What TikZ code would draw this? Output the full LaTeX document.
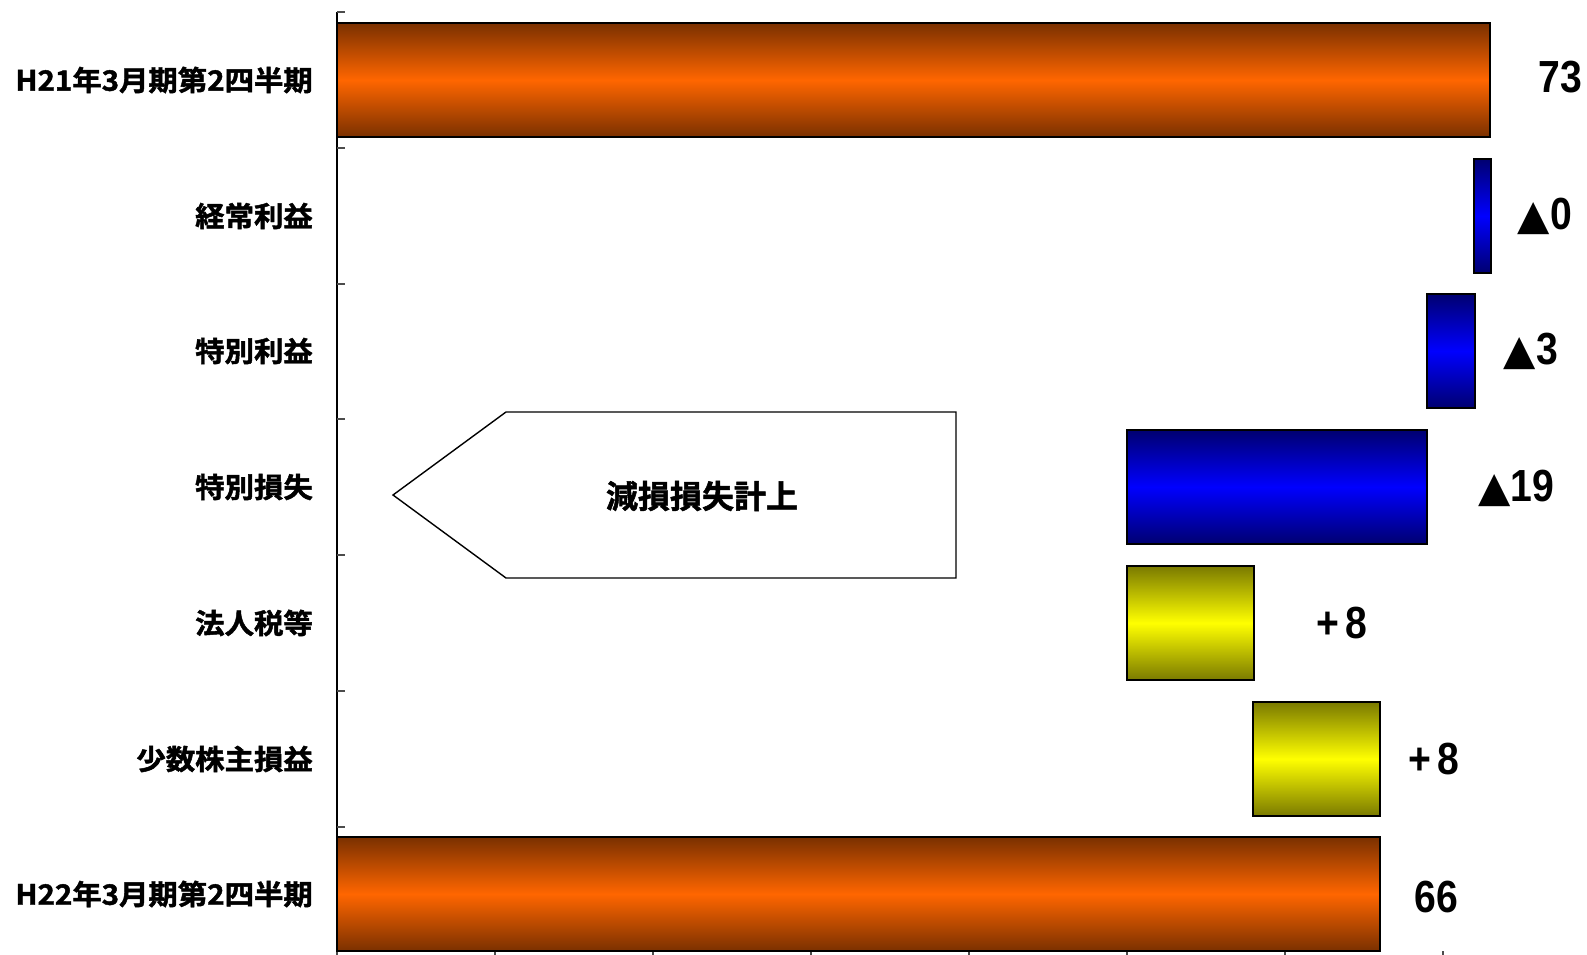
\documentclass[tikz,border=0pt]{standalone}
\usepackage{fontspec}
\usepackage{graphicx}
\newfontfamily\jp{Noto Sans CJK JP Bold}[BoldFont={Noto Sans CJK JP Bold}, BoldFeatures={FakeBold=1.6}]
\newfontfamily\numf{Liberation Sans}
\newfontfamily\symf{DejaVu Sans}
\definecolor{ordark}{HTML}{7A3000}
\definecolor{ormid}{HTML}{FF6600}
\definecolor{bldark}{HTML}{000070}
\definecolor{blmid}{HTML}{0000FF}
\definecolor{yedark}{HTML}{7A7A00}
\definecolor{yemid}{HTML}{FFFF00}
\newcommand{\tri}{{\fontsize{42}{42}\selectfont\symf\bfseries ▲}}
\newcommand{\numtxt}[1]{\scalebox{0.87}[1]{\fontsize{45}{45}\selectfont\numf\bfseries #1}}
\newcommand{\cattxt}[1]{\scalebox{1.05}[1]{\jp\bfseries\fontsize{28}{30}\selectfont #1}}
\tikzset{
  bar/.style={draw=black, anchor=north west, inner sep=0pt, outer sep=0pt},
  orbar/.style={bar, line width=2.6pt, top color=ordark, bottom color=ordark, middle color=ormid},
  blbar/.style={bar, line width=1.8pt, top color=bldark, bottom color=bldark, middle color=blmid},
  yebar/.style={bar, line width=1.8pt, top color=yedark, bottom color=yedark, middle color=yemid},
  catlabel/.style={anchor=east, inner sep=0pt},
  vallabel/.style={anchor=center, inner sep=0pt},
  axisline/.style={draw=black, line width=1.2pt},
  tickmark/.style={draw=black!70, line width=1.2pt},
  callout/.style={draw=black, line width=1.4pt, fill=white}
}
\begin{document}
\begin{tikzpicture}[x=1pt,y=-1pt]
\useasboundingbox (0,0) rectangle (1587,955);
\fill[white] (0,0) rectangle (1587,955);
% axis
\coordinate (atop) at (337,12);
\coordinate (abot) at (337,955);
\draw[axisline] (atop) -- (abot);
\foreach \yy in {12,148,284,419,555,691,827}{
  \draw[tickmark] (337,\yy) -- (345,\yy);
}
\foreach \xx in {337,495,653,811,969,1127,1285,1443}{
  \draw[tickmark] (\xx,951) -- (\xx,955);
}
% bars
\node[orbar, minimum width=1153pt, minimum height=114pt] (b1) at (337,23) {};
\node[blbar, minimum width=17pt, minimum height=114pt] (b2) at (1474,159) {};
\node[blbar, minimum width=48pt, minimum height=114pt] (b3) at (1427,294) {};
\node[blbar, minimum width=300pt, minimum height=114pt] (b4) at (1127,430) {};
\node[yebar, minimum width=127pt, minimum height=114pt] (b5) at (1127,566) {};
\node[yebar, minimum width=127pt, minimum height=114pt] (b6) at (1253,702) {};
\node[orbar, minimum width=1043pt, minimum height=114pt] (b7) at (337,837) {};
% category labels
\node[catlabel] (c1) at (313,80) {\cattxt{H21年3月期第2四半期}};
\node[catlabel] (c2) at (313,216) {\cattxt{経常利益}};
\node[catlabel] (c3) at (313,351) {\cattxt{特別利益}};
\node[catlabel] (c4) at (313,487) {\cattxt{特別損失}};
\node[catlabel] (c5) at (313,623) {\cattxt{法人税等}};
\node[catlabel] (c6) at (313,759) {\cattxt{少数株主損益}};
\node[catlabel] (c7) at (313,894) {\cattxt{H22年3月期第2四半期}};
% value labels
\node[vallabel] (v1) at (1560,77) {\numtxt{73}};
\node[vallabel] (v2) at (1545,216) {\tri\numtxt{0}};
\node[vallabel] (v3) at (1531,351) {\tri\numtxt{3}};
\node[vallabel] (v4) at (1516,488) {\tri\numtxt{19}};
\node[vallabel] (v5) at (1342,623) {\numtxt{+\,8}};
\node[vallabel] (v6) at (1434,759) {\numtxt{+\,8}};
\node[vallabel] (v7) at (1436,897) {\numtxt{66}};
% callout
\coordinate (p1) at (393,495);
\coordinate (p2) at (506,412);
\coordinate (p3) at (956,412);
\coordinate (p4) at (956,578);
\coordinate (p5) at (506,578);
\draw[callout] (p1) -- (p2) -- (p3) -- (p4) -- (p5) -- cycle;
\node[inner sep=0pt, font=\jp\bfseries\fontsize{32}{34}\selectfont] (note) at (702,496) {減損損失計上};
\end{tikzpicture}
\end{document}
